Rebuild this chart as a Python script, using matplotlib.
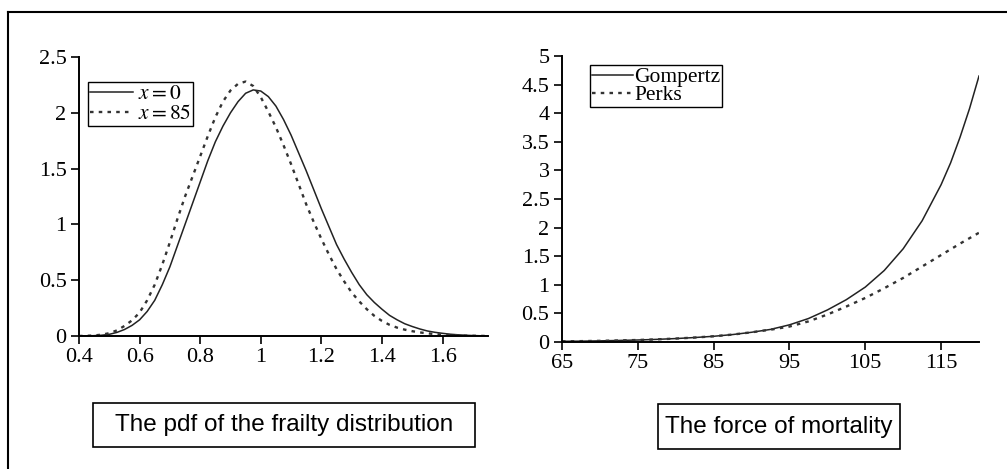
import matplotlib
matplotlib.use("Agg")
import matplotlib.pyplot as plt
from matplotlib.patches import Rectangle
from matplotlib.lines import Line2D

# frailty pdf
frailty_z = [0.400, 0.425, 0.450, 0.475, 0.500, 0.525, 0.550, 0.575, 0.600, 0.625,
             0.650, 0.675, 0.700, 0.725, 0.750, 0.775, 0.800, 0.825, 0.850, 0.875,
             0.900, 0.925, 0.950, 0.975, 1.000, 1.025, 1.050, 1.075, 1.100, 1.125,
             1.150, 1.175, 1.200, 1.225, 1.250, 1.275, 1.300, 1.325, 1.350, 1.375,
             1.400, 1.425, 1.450, 1.475, 1.500, 1.525, 1.550, 1.575, 1.600, 1.625,
             1.650, 1.675, 1.700, 1.725, 1.750]
pdf_x0 = [0.000, 0.001, 0.003, 0.007, 0.015, 0.032, 0.058, 0.095, 0.145, 0.22,
          0.32, 0.46, 0.62, 0.81, 1.00, 1.19, 1.38, 1.57, 1.74, 1.88,
          2.00, 2.10, 2.175, 2.205, 2.195, 2.145, 2.06, 1.94, 1.80, 1.64,
          1.48, 1.31, 1.14, 0.98, 0.82, 0.69, 0.57, 0.46, 0.37, 0.30,
          0.24, 0.185, 0.145, 0.11, 0.085, 0.063, 0.045, 0.033, 0.024, 0.016,
          0.011, 0.007, 0.004, 0.002, 0.001]
pdf_x85 = [0.000, 0.002, 0.005, 0.012, 0.025, 0.05, 0.09, 0.14, 0.21, 0.32,
           0.46, 0.64, 0.84, 1.05, 1.25, 1.43, 1.61, 1.79, 1.96, 2.10,
           2.20, 2.26, 2.28, 2.24, 2.14, 2.01, 1.87, 1.71, 1.54, 1.36,
           1.18, 1.02, 0.87, 0.73, 0.60, 0.49, 0.39, 0.31, 0.24, 0.18,
           0.135, 0.10, 0.075, 0.057, 0.043, 0.032, 0.024, 0.017, 0.012, 0.008,
           0.005, 0.003, 0.002, 0.001, 0.000]

# force of mortality
ages = [65, 67.5, 70, 72.5, 75, 77.5, 80, 82.5, 85, 87.5, 90, 92.5, 95, 97.5, 100,
        102.5, 105, 107.5, 110, 112.5, 115, 116.25, 117.5, 118.75, 120]
gompertz = [0.012, 0.015, 0.02, 0.027, 0.035, 0.046, 0.06, 0.078, 0.10, 0.13, 0.17, 0.22, 0.30, 0.41, 0.56,
            0.74, 0.96, 1.25, 1.63, 2.12, 2.75, 3.13, 3.58, 4.08, 4.65]
perks = [0.012, 0.015, 0.02, 0.027, 0.035, 0.046, 0.06, 0.078, 0.10, 0.13, 0.17, 0.215, 0.27, 0.36, 0.48,
         0.62, 0.77, 0.94, 1.12, 1.32, 1.52, 1.62, 1.72, 1.815, 1.91]

left_xticks = [0.4, 0.6, 0.8, 1.0, 1.2, 1.4, 1.6]
left_xlabels = ["0.4", "0.6", "0.8", "1", "1.2", "1.4", "1.6"]
left_yticks = [0, 0.5, 1, 1.5, 2, 2.5]
left_ylabels = ["0", "0.5", "1", "1.5", "2", "2.5"]
right_xticks = [65, 75, 85, 95, 105, 115]
right_yticks = [0, 0.5, 1, 1.5, 2, 2.5, 3, 3.5, 4, 4.5, 5]
right_ylabels = ["0", "0.5", "1", "1.5", "2", "2.5", "3", "3.5", "4", "4.5", "5"]

plt.rcParams["font.family"] = ["Liberation Serif", "DejaVu Serif"]
plt.rcParams["mathtext.fontset"] = "stix"

W, H = 1007, 469
fig = plt.figure(figsize=(W / 100, H / 100), dpi=100)

DOT = (0, (1.5, 2.2))


def style_axes(ax):
    for s in ["top", "right"]:
        ax.spines[s].set_visible(False)
    for s in ["left", "bottom"]:
        ax.spines[s].set_linewidth(1.4)
        ax.spines[s].set_color("black")
    ax.tick_params(direction="out", length=6, width=1.2, labelsize=16, pad=3, colors="black")


def px_axes(x0, x1, ytop, ybot):
    return fig.add_axes([x0 / W, 1 - ybot / H, (x1 - x0) / W, (ybot - ytop) / H])


# left panel
ax1 = px_axes(79, 488, 57, 336)
ax1.plot(frailty_z, pdf_x0, color="#222222", lw=1.1, label="$x = 0$")
ax1.plot(frailty_z, pdf_x85, color="#333333", lw=1.7, ls=DOT, label="$x = 85$")
ax1.set_xlim(0.4, 1.75)
ax1.set_ylim(0, 2.5)
ax1.set_xticks(left_xticks, left_xlabels)
ax1.set_yticks(left_yticks, left_ylabels)
style_axes(ax1)
leg1 = ax1.legend(loc="upper left", bbox_to_anchor=(88 / W, 1 - 82 / H), bbox_transform=fig.transFigure,
                  borderaxespad=0, fancybox=False, framealpha=1, edgecolor="black", fontsize=15.5,
                  handlelength=2.0, handletextpad=0.2, labelspacing=0.0, borderpad=0.1)
leg1.get_frame().set_linewidth(1.0)

# right panel
ax2 = px_axes(562, 979, 56, 342)
ax2.plot(ages, gompertz, color="#222222", lw=1.1, label="Gompertz")
ax2.plot(ages, perks, color="#333333", lw=1.7, ls=DOT, label="Perks")
ax2.set_xlim(65, 120)
ax2.set_ylim(0, 5)
ax2.set_xticks(right_xticks)
ax2.set_yticks(right_yticks, right_ylabels)
style_axes(ax2)
leg2 = ax2.legend(loc="upper left", bbox_to_anchor=(590 / W, 1 - 65 / H), bbox_transform=fig.transFigure,
                  borderaxespad=0, fancybox=False, framealpha=1, edgecolor="black", fontsize=15.5,
                  handlelength=1.9, handletextpad=0.05, labelspacing=-0.1, borderpad=0.1)
leg2.get_frame().set_linewidth(1.0)

# outer frame (left and top edges only)
fig.add_artist(Line2D([8 / W, 8 / W], [0, 1 - 12 / H], transform=fig.transFigure, color="black", lw=1.5))
fig.add_artist(Line2D([8 / W, 1], [1 - 12 / H, 1 - 12 / H], transform=fig.transFigure, color="black", lw=1.5))


# caption boxes
def caption(x0, x1, ytop, ybot, text):
    fig.add_artist(Rectangle((x0 / W, 1 - ybot / H), (x1 - x0) / W, (ybot - ytop) / H,
                             transform=fig.transFigure, fill=False, edgecolor="black", lw=1.2))
    fig.text((x0 + x1) / 2 / W, 1 - (ytop + ybot) / 2 / H, text, ha="center", va="center",
             fontsize=17.5, family=["Liberation Sans", "DejaVu Sans"])


caption(93, 475, 403, 447, "The pdf of the frailty distribution")
caption(658, 900, 404, 449, "The force of mortality")

fig.savefig("out.png", dpi=100)
